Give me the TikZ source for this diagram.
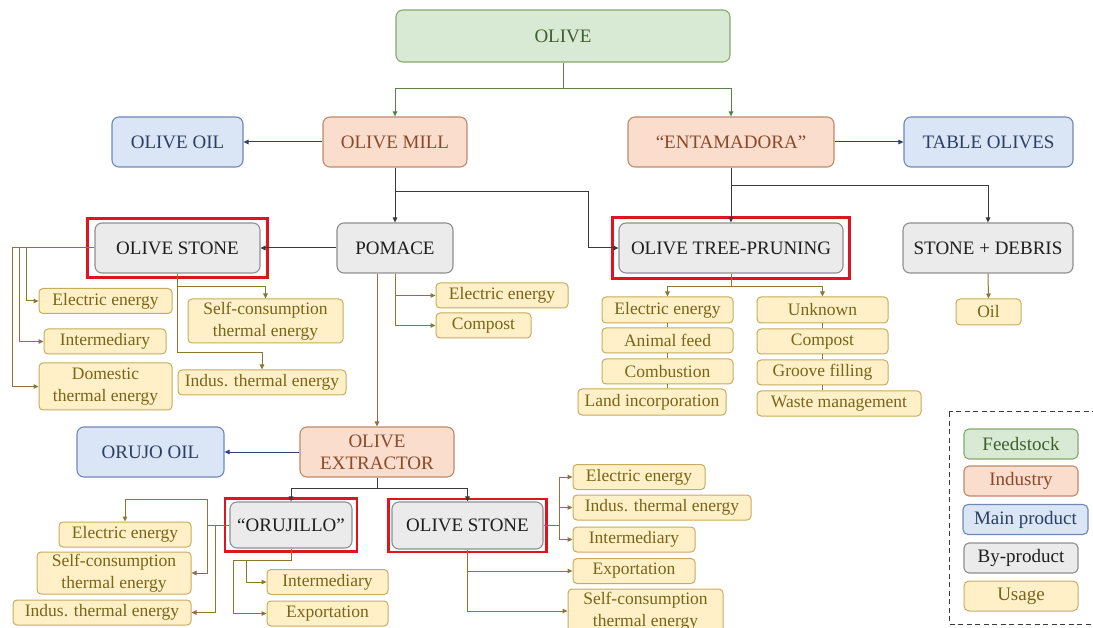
\documentclass[tikz,border=0pt]{standalone}
\usepackage{fontspec}
\setmainfont{LiberationSerif}[Extension=.ttf, UprightFont=*-Regular, BoldFont=*-Bold, ItalicFont=*-Italic, BoldItalicFont=*-BoldItalic]
\usetikzlibrary{arrows.meta,fit}
\definecolor{feedFill}{HTML}{D8EAD3}
\definecolor{feedDraw}{HTML}{86A86E}
\definecolor{feedText}{HTML}{3F5F2F}
\definecolor{indFill}{HTML}{FADDCD}
\definecolor{indDraw}{HTML}{BE8A6A}
\definecolor{indText}{HTML}{8A4A2A}
\definecolor{mainFill}{HTML}{DAE6F6}
\definecolor{mainDraw}{HTML}{6F88B4}
\definecolor{mainText}{HTML}{2C3E62}
\definecolor{byFill}{HTML}{EBEBEB}
\definecolor{byDraw}{HTML}{8F8F8F}
\definecolor{byText}{HTML}{1E1E1E}
\definecolor{useFill}{HTML}{FFF0C8}
\definecolor{useDraw}{HTML}{C9AB5C}
\definecolor{useText}{HTML}{7A6418}
\definecolor{hlRed}{HTML}{E0141E}
\definecolor{cGreen}{HTML}{5B7F48}
\definecolor{cDark}{HTML}{3A3A3A}
\definecolor{cNavy}{HTML}{2F4468}
\definecolor{cTan}{HTML}{8C7634}
\definecolor{cBrown}{HTML}{A0664A}
\newcommand\BigFnt{\fontsize{19}{22}\selectfont}
\newcommand\UseFnt{\fontsize{17.5}{21.5}\selectfont}
\begin{document}
\begin{tikzpicture}[x=1pt,y=-1pt,
  box/.style={draw, rounded corners=7pt, line width=1.1pt, inner sep=0pt, align=center, font=\BigFnt},
  feed/.style={box, fill=feedFill, draw=feedDraw, text=feedText},
  ind/.style={box, fill=indFill, draw=indDraw, text=indText},
  mainp/.style={box, fill=mainFill, draw=mainDraw, text=mainText},
  byp/.style={box, fill=byFill, draw=byDraw, text=byText},
  use/.style={draw=useDraw, fill=useFill, text=useText, rounded corners=4pt, line width=1pt, inner sep=0pt, align=center, font=\UseFnt, minimum height=25pt},
  hl/.style={draw=hlRed, line width=2.8pt, inner sep=0pt},
  arr/.style={line width=1pt, -{Triangle[length=5pt,width=4.5pt]}},
  garr/.style={arr, draw=cGreen},
  darr/.style={arr, draw=cDark},
  narr/.style={arr, draw=cNavy},
  barr/.style={arr, draw=cBrown},
  uarr/.style={arr, draw=cTan},
  uline/.style={line width=1pt, draw=cTan},
  legbox/.style={rounded corners=5pt, minimum width=114pt, minimum height=30pt}
]
\useasboundingbox (0,0) rectangle (1093,628);
\clip (0,0) rectangle (1093,628);

% main nodes
\node[feed, minimum width=334pt, minimum height=52pt] (olive) at (563,36) {OLIVE};
\node[mainp, minimum width=131pt, minimum height=50pt] (ooil) at (177.5,142) {OLIVE OIL};
\node[ind, minimum width=144pt, minimum height=50pt] (mill) at (395,142) {OLIVE MILL};
\node[ind, minimum width=206pt, minimum height=50pt] (ent) at (731,142) {“ENTAMADORA”};
\node[mainp, minimum width=169pt, minimum height=50pt] (table) at (988.5,142) {TABLE OLIVES};
\node[byp, minimum width=165pt, minimum height=50pt] (os1) at (177.5,248) {OLIVE STONE};
\node[byp, minimum width=116pt, minimum height=50pt] (pom) at (395,248) {POMACE};
\node[byp, minimum width=224pt, minimum height=50pt] (otp) at (731,248) {OLIVE TREE-PRUNING};
\node[byp, minimum width=170pt, minimum height=50pt] (sd) at (988,248) {STONE + DEBRIS};
\node[ind, minimum width=154pt, minimum height=50pt] (ext) at (377,452) {OLIVE\\EXTRACTOR};
\node[mainp, minimum width=147pt, minimum height=50pt] (orujo) at (150.5,452) {ORUJO OIL};
\node[byp, minimum width=122pt, minimum height=46pt] (oru) at (291,525) {“ORUJILLO”};
\node[byp, minimum width=151pt, minimum height=47pt] (os2) at (467.5,525.5) {OLIVE STONE};

% red highlight frames
\node[hl, fit=(os1), inner xsep=7pt, inner ysep=4pt] (os1h) {};
\node[hl, fit=(otp), inner xsep=6pt, inner ysep=5pt] (otph) {};
\node[hl, fit=(oru), inner xsep=4.5pt, inner ysep=3pt] (oruh) {};
\node[hl, fit=(os2), inner xsep=3pt, inner ysep=2.5pt] (os2h) {};

% usage: olive stone (mill)
\node[use, minimum width=133pt] (e1) at (105.5,301) {Electric energy};
\node[use, minimum width=122pt] (i1) at (105,341.5) {Intermediary};
\node[use, minimum width=133pt, minimum height=47pt] (d1) at (105.5,386.5) {Domestic\\thermal energy};
\node[use, minimum width=155pt, minimum height=44pt] (sc1) at (265.5,321) {Self-consumption\\thermal energy};
\node[use, minimum width=168pt] (it1) at (262,382.5) {Indus. thermal energy};
% usage: pomace
\node[use, minimum width=132pt] (e2) at (502,295.5) {Electric energy};
\node[use, minimum width=95pt] (c2) at (483.5,325.5) {Compost};
% usage: pruning
\node[use, minimum width=131pt, minimum height=26pt] (e3) at (667.5,310) {Electric energy};
\node[use, minimum width=131pt] (af) at (667.5,340.5) {Animal feed};
\node[use, minimum width=131pt] (comb) at (667.5,371.5) {Combustion};
\node[use, minimum width=148pt, minimum height=26pt] (land) at (652,402) {Land incorporation};
\node[use, minimum width=131pt, minimum height=26pt] (unk) at (822.5,310) {Unknown};
\node[use, minimum width=131pt] (comp3) at (822.5,341.5) {Compost};
\node[use, minimum width=131pt] (groove) at (822.5,372.5) {Groove filling};
\node[use, minimum width=164pt] (waste) at (839,403.5) {Waste management};
% usage: stone + debris
\node[use, minimum width=65pt, minimum height=26pt] (oilu) at (988.5,312) {Oil};
% usage: orujillo
\node[use, minimum width=132pt] (e4) at (125,534.5) {Electric energy};
\node[use, minimum width=154pt, minimum height=42pt] (sc4) at (114,573) {Self-consumption\\thermal energy};
\node[use, minimum width=178pt] (it4) at (102,612.5) {Indus. thermal energy};
\node[use, minimum width=121pt] (int4) at (327.5,582) {Intermediary};
\node[use, minimum width=121pt] (exp4) at (327.5,613.5) {Exportation};
% usage: olive stone (extractor)
\node[use, minimum width=132pt] (e5) at (639,477) {Electric energy};
\node[use, minimum width=178pt] (it5) at (662,507.5) {Indus. thermal energy};
\node[use, minimum width=122pt] (int5) at (634,539.5) {Intermediary};
\node[use, minimum width=122pt] (exp5) at (634,571) {Exportation};
\node[use, minimum width=155pt, minimum height=44pt] (sc5) at (645.5,611) {Self-consumption\\thermal energy};

% legend
\draw[cDark, line width=1pt, dash pattern=on 5pt off 3.5pt] (949,412) rectangle (1100,624);
\node[feed, legbox] (lfeed) at (1021,444) {Feedstock};
\node[ind, legbox] (lind) at (1021,481) {Industry};
\node[mainp, legbox, minimum width=125pt] (lmain) at (1025.5,519.5) {Main product};
\node[byp, legbox] (lby) at (1021,558) {By-product};
\node[use, legbox, font=\BigFnt] (luse) at (1021,596) {Usage};

% connectors: olive
\draw[garr] (olive.south) -- ++(0,26) -| (mill.north);
\draw[garr] (olive.south) -- ++(0,26) -| (ent.north);
\draw[narr] (mill.west) -- (ooil.east);
\draw[narr] (ent.east) -- (table.west);
% mill
\coordinate (mj) at (588,192);
\draw[darr] (mill.south) -- (pom.north);
\draw[darr] (mill.south) |- (mj) |- (otp.west);
% entamadora
\draw[darr] (ent.south) -- (otp.north);
\draw[darr] (ent.south) -- ++(0,18) -| (sd.north);
% pomace
\draw[darr] (pom.west) -- (os1.east);
\draw[uarr] (pom.south) |- (e2.west);
\draw[uarr] (pom.south) |- (c2.west);
\draw[barr] (pom.south -| ext.north) -- (ext.north);
% olive stone (mill)
\draw[uarr] (os1.west) -- ++(-68,0) |- (e1.west);
\draw[uarr] (os1.west) -- ++(-75,0) |- (i1.west);
\draw[uarr] (os1.west) -- ++(-82,0) |- (d1.west);
\draw[uarr] (os1.south) -- ++(0,13) -| (sc1.north);
\draw[uarr] (os1.south) -- ++(0,79) -| (it1.north);
% pruning
\draw[uarr] (otp.south) -- ++(0,13) -| (e3.north);
\draw[uarr] (otp.south) -- ++(0,13) -| (unk.north);
\draw[uline] (e3.south) -- (af.north);
\draw[uline] (af.south) -- (comb.north);
\draw[uline] (comb.south) -- (comb.south |- land.north);
\draw[uline] (unk.south) -- (comp3.north);
\draw[uline] (comp3.south) -- (groove.north);
\draw[uline] (groove.south) -- (groove.south |- waste.north);
% stone + debris
\draw[uarr] (sd.south) -- (oilu.north);
% extractor
\draw[narr] (ext.west) -- (orujo.east);
\draw[darr] (ext.south) -- ++(0,11) -| (oru.north);
\draw[darr] (ext.south) -- ++(0,11) -| (os2.north);
% orujillo
\draw[uarr] (oru.west) -- ++(-22,0) -- ++(0,-26) -| (e4.north);
\draw[uarr] (oru.west) -- ++(-22,0) |- (sc4.east);
\draw[uarr] (oru.west) -- ++(-14,0) |- (it4.east);
\draw[uarr] (oru.south) -- ++(0,12) -- ++(-45,0) |- (int4.west);
\draw[uarr] (oru.south) -- ++(0,12) -- ++(-58,0) |- (exp4.west);
% olive stone (extractor)
\draw[uarr] (os2.east) -- ++(16,0) |- (e5.west);
\draw[uarr] (os2.east) -- ++(16,0) |- (it5.west);
\draw[uarr] (os2.east) -- ++(16,0) |- (int5.west);
\draw[uarr] (os2.south) |- (exp5.west);
\draw[uarr] (os2.south) |- (sc5.west);
\end{tikzpicture}
\end{document}
